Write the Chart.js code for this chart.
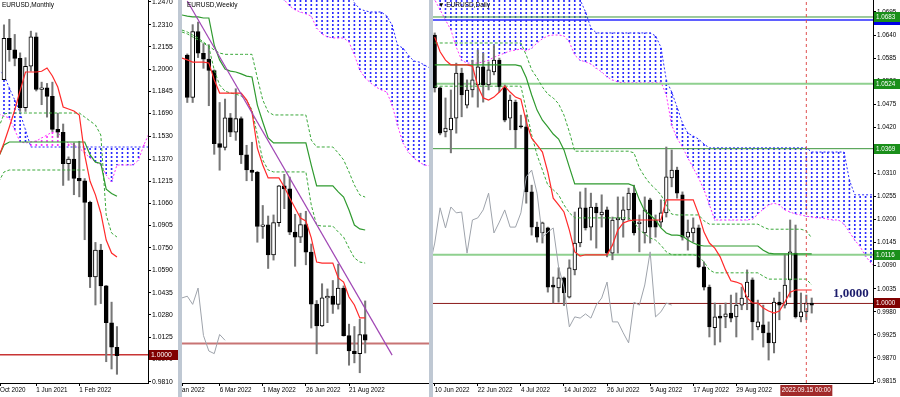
<!DOCTYPE html>
<html>
<head>
<meta charset="utf-8">
<script src="https://cdn.jsdelivr.net/npm/chart.js@4.4.1/dist/chart.umd.min.js"></script>
<style>
  html, body { margin: 0; padding: 0; }
  body { width: 900px; height: 397px; position: relative; overflow: hidden; background: #bfc8d3; }
  .pane { position: absolute; top: 0; height: 397px; background: #fff; }
  .pane canvas { display: block; }
</style>
</head>
<body>
<div class="pane" style="left:0;width:178px"><canvas id="monthly" width="178" height="397"></canvas></div>
<div class="pane" style="left:182px;width:247px"><canvas id="weekly" width="247" height="397"></canvas></div>
<div class="pane" style="left:433px;width:467px"><canvas id="daily" width="467" height="397"></canvas></div>
<script>
// ---------- monthly (bar 0 = Dec 2020) ----------
const mTickIdx = [-0.74, 6, 14];
const mTickLbl = ['Oct 2020', '1 Jun 2021', '1 Feb 2022'];
const mPriceTicks = [1.2470, 1.2310, 1.2155, 1.2000, 1.1845, 1.1690, 1.1530, 1.1370, 1.1215, 1.1060,
  1.0905, 1.0750, 1.0590, 1.0435, 1.0280, 1.0125, 0.9970, 0.9810];
const mOpen  = [1.1927, 1.2216, 1.2136, 1.2075, 1.1730, 1.2020, 1.2227, 1.1858, 1.1870, 1.1809, 1.1578,
  1.1558, 1.1338, 1.1370, 1.1235, 1.1218, 1.1067, 1.0545, 1.0733, 1.0483, 1.0225, 1.0053];
const mHigh  = [1.2310, 1.2349, 1.2243, 1.2114, 1.2080, 1.2266, 1.2254, 1.1909, 1.1900, 1.1909, 1.1692,
  1.1616, 1.1386, 1.1483, 1.1495, 1.1234, 1.1076, 1.0787, 1.0774, 1.0486, 1.0369, 1.0198];
const mLow   = [1.1925, 1.2055, 1.2023, 1.1704, 1.1704, 1.1986, 1.1847, 1.1751, 1.1664, 1.1563, 1.1524,
  1.1186, 1.1222, 1.1121, 1.1106, 1.0806, 1.0471, 1.0349, 1.0359, 0.9952, 0.9901, 0.9864];
const mClose = [1.2216, 1.2136, 1.2075, 1.1730, 1.2020, 1.2227, 1.1858, 1.1870, 1.1809, 1.1578, 1.1558,
  1.1338, 1.1370, 1.1235, 1.1218, 1.1067, 1.0545, 1.0733, 1.0483, 1.0225, 1.0053, 0.9995];
// lines below start at bar -1
const mTenkan = [1.1385, 1.1483, 1.1595, 1.1714, 1.1850, 1.1980, 1.1980, 1.1980, 1.1985, 1.2008, 1.1952,
  1.1875, 1.1735, 1.1721, 1.1707, 1.1679, 1.1400, 1.1215, 1.1120, 1.0993, 1.0804, 1.0713, 1.0685];
const mKijun = [1.1385, 1.1469, 1.1490, 1.1490, 1.1490, 1.1490, 1.1490, 1.1490, 1.1490, 1.1490, 1.1490,
  1.1490, 1.1490, 1.1490, 1.1490, 1.1490, 1.1490, 1.1400, 1.1349, 1.1340, 1.1160, 1.1130, 1.1110];
const mDashA = [1.1588, 1.1686, 1.1693, 1.1693, 1.1693, 1.1693, 1.1693, 1.1693, 1.1693, 1.1693, 1.1693,
  1.1693, 1.1693, 1.1693, 1.1693, 1.1693, 1.1665, 1.1637, 1.1609, 1.1539, 1.0979, 1.0853, 1.0825];
const mDashB = [1.1210, 1.1280, 1.1294, 1.1294, 1.1294, 1.1294, 1.1294, 1.1294, 1.1294, 1.1294, 1.1294,
  1.1294, 1.1294, 1.1294, 1.1294, 1.1294, 1.1294];
const mSpanA = [1.1686, 1.1672, 1.1658, 1.1574, 1.1490, 1.1483, 1.1490, 1.1497, 1.1518, 1.1539, 1.1560,
  1.1560, 1.1504, 1.1483, 1.1469, 1.1448, 1.1413, 1.1378, 1.1350, 1.1329, 1.1259, 1.1210, 1.1329, 1.1329,
  1.1329, 1.1329, 1.1364, 1.1469, 1.1553];
const mSpanB = [1.1994, 1.1959, 1.1868, 1.1784, 1.1693, 1.1574, 1.1455, 1.1455, 1.1455, 1.1455, 1.1455,
  1.1455, 1.1455, 1.1455, 1.1455, 1.1455, 1.1455, 1.1455, 1.1455, 1.1455, 1.1455, 1.1455, 1.1455, 1.1455,
  1.1455, 1.1455, 1.1455, 1.1455, 1.1455];
const mLevels = [1.0000];

// ---------- weekly (bar 0 = week of 23 Jan 2022) ----------
const wTickIdx = [-0.98, 6, 14, 22, 30];
const wTickLbl = ['an 2022', '6 Mar 2022', '1 May 2022', '26 Jun 2022', '21 Aug 2022'];
const wOpen  = [1.1342, 1.1145, 1.1451, 1.1350, 1.1323, 1.1270, 1.0930, 1.0912, 1.1050, 1.0983, 1.1046,
  1.0877, 1.0807, 1.0796, 1.0545, 1.0552, 1.0412, 1.0562, 1.0733, 1.0719, 1.0518, 1.0495, 1.0553, 1.0425,
  1.0183, 1.0082, 1.0212, 1.0220, 1.0182, 1.0258, 1.0037, 0.9965, 0.9953, 1.0042];
const wHigh  = [1.1347, 1.1483, 1.1495, 1.1395, 1.1390, 1.1273, 1.1121, 1.1137, 1.1070, 1.1185, 1.1054,
  1.0922, 1.0936, 1.0801, 1.0642, 1.0593, 1.0598, 1.0735, 1.0787, 1.0774, 1.0601, 1.0606, 1.0615, 1.0463,
  1.0200, 1.0278, 1.0254, 1.0293, 1.0369, 1.0268, 1.0090, 1.0079, 1.0113, 1.0198];
const wLow   = [1.1121, 1.1121, 1.1330, 1.1280, 1.1106, 1.0880, 1.0806, 1.0900, 1.0962, 1.0945, 1.0837,
  1.0757, 1.0757, 1.0471, 1.0489, 1.0349, 1.0388, 1.0545, 1.0627, 1.0506, 1.0359, 1.0469, 1.0366, 1.0072,
  0.9952, 1.0079, 1.0097, 1.0140, 1.0160, 1.0034, 0.9899, 0.9910, 0.9864, 0.9956];
const wClose = [1.1145, 1.1451, 1.1350, 1.1323, 1.1270, 1.0930, 1.0912, 1.1050, 1.0983, 1.1046, 1.0877,
  1.0807, 1.0796, 1.0545, 1.0552, 1.0412, 1.0562, 1.0733, 1.0719, 1.0518, 1.0495, 1.0553, 1.0425, 1.0183,
  1.0082, 1.0212, 1.0220, 1.0182, 1.0258, 1.0037, 0.9965, 0.9953, 1.0042, 1.0015];
// lines below start at bar -1
const wTenkan = [1.1328, 1.1319, 1.1309, 1.1309, 1.1309, 1.1305, 1.1226, 1.1165, 1.1165, 1.1165, 1.1165,
  1.1165, 1.1133, 1.1077, 1.0909, 1.0830, 1.0770, 1.0770, 1.0770, 1.0728, 1.0677, 1.0630, 1.0584, 1.0570,
  1.0491, 1.0379, 1.0374, 1.0374, 1.0374, 1.0305, 1.0286, 1.0216, 1.0179, 1.0119, 1.0119];
const wKijun = [1.1528, 1.1523, 1.1519, 1.1519, 1.1514, 1.1514, 1.1388, 1.1319, 1.1277, 1.1267, 1.1263,
  1.1254, 1.1244, 1.1240, 1.1109, 1.1030, 1.0956, 1.0933, 1.0933, 1.0933, 1.0933, 1.0933, 1.0933, 1.0933,
  1.0830, 1.0733, 1.0733, 1.0733, 1.0733, 1.0705, 1.0681, 1.0621, 1.0551, 1.0533, 1.0528];
const wDashHi = [1.1458, 1.1449, 1.1435, 1.1421, 1.1402, 1.1384, 1.1365, 1.1351, 1.1345, 1.1345, 1.1345,
  1.1345, 1.1345, 1.1345, 1.1235, 1.1133, 1.1077, 1.1063, 1.1063, 1.1063, 1.1063, 1.1063, 1.1063, 1.1063,
  1.0946, 1.0914, 1.0914, 1.0914, 1.0914, 1.0886, 1.0854, 1.0798, 1.0737, 1.0691, 1.0681];
const wDashLo = [1.1449, 1.1440, 1.1426, 1.1412, 1.1398, 1.1379, 1.1272, 1.1202, 1.1174, 1.1165, 1.1160,
  1.1151, 1.1133, 1.1086, 1.0970, 1.0854, 1.0807, 1.0798, 1.0798, 1.0798, 1.0798, 1.0798, 1.0798, 1.0798,
  1.0644, 1.0551, 1.0546, 1.0546, 1.0546, 1.0519, 1.0495, 1.0444, 1.0398, 1.0379, 1.0374];
// cloud starts at bar 16
const wSpanA = [1.1691, 1.1644, 1.1598, 1.1570, 1.1551, 1.1542, 1.1533, 1.1523, 1.1467, 1.1440, 1.1426,
  1.1421, 1.1421, 1.1421, 1.1402, 1.1342, 1.1272, 1.1235, 1.1212, 1.1193, 1.1179, 1.1170, 1.1109, 1.1016,
  1.0933, 1.0891, 1.0863, 1.0844, 1.0830, 1.0826];
const wSpanB = [1.1737, 1.1737, 1.1737, 1.1737, 1.1737, 1.1737, 1.1737, 1.1737, 1.1737, 1.1737, 1.1737,
  1.1737, 1.1737, 1.1737, 1.1650, 1.1584, 1.1556, 1.1547, 1.1542, 1.1542, 1.1542, 1.1523, 1.1481, 1.1388,
  1.1374, 1.1342, 1.1314, 1.1309, 1.1295, 1.1281];
const wTrendX = [0, 38];
const wTrendY = [1.1593, 0.9946];
const wLevels = [1.0000];

// ---------- daily (bar 0 = 10 Jun 2022) ----------
const dTickIdx = [0, 8, 16, 24, 32, 40, 48, 56];
const dTickLbl = ['10 Jun 2022', '22 Jun 2022', '4 Jul 2022', '14 Jul 2022', '26 Jul 2022', '5 Aug 2022',
  '17 Aug 2022', '29 Aug 2022'];
const dPriceTicks = [1.0695, 1.0640, 1.0585, 1.0530, 1.0475, 1.0420, 1.0365, 1.0310, 1.0255, 1.0200,
  1.0145, 1.0090, 1.0035, 0.9980, 0.9925, 0.9870, 0.9815];
const dOpen = [1.0640, 1.0514, 1.0409, 1.0414, 1.0442, 1.0549, 1.0473, 1.0509, 1.0521, 1.0564,
  1.0521, 1.0552, 1.0580, 1.0516, 1.0442, 1.0480, 1.0423, 1.0421, 1.0266, 1.0182,
  1.0168, 1.0180, 1.0044, 1.0037, 1.0061, 1.0015, 1.0080, 1.0144, 1.0228, 1.0182,
  1.0230, 1.0211, 1.0223, 1.0120, 1.0199, 1.0199, 1.0223, 1.0263, 1.0190, 1.0168,
  1.0247, 1.0199, 1.0194, 1.0216, 1.0299, 1.0318, 1.0259, 1.0158, 1.0168, 1.0180,
  1.0087, 1.0039, 0.9942, 0.9970, 0.9968, 0.9977, 0.9968, 0.9996, 1.0015, 1.0056,
  0.9944, 0.9949, 0.9930, 0.9906, 1.0003, 0.9996, 1.0056, 1.0120, 0.9968, 0.9980, 1.0001];
const dHigh = [1.0645, 1.0516, 1.0490, 1.0509, 1.0573, 1.0561, 1.0533, 1.0580, 1.0604, 1.0597,
  1.0576, 1.0616, 1.0585, 1.0521, 1.0497, 1.0485, 1.0449, 1.0449, 1.0282, 1.0194,
  1.0194, 1.0182, 1.0063, 1.0085, 1.0063, 1.0104, 1.0218, 1.0266, 1.0275, 1.0263,
  1.0239, 1.0259, 1.0230, 1.0206, 1.0254, 1.0254, 1.0275, 1.0282, 1.0211, 1.0254,
  1.0251, 1.0211, 1.0247, 1.0373, 1.0366, 1.0325, 1.0266, 1.0199, 1.0204, 1.0187,
  1.0099, 1.0044, 1.0001, 0.9996, 1.0001, 1.0020, 1.0025, 1.0039, 1.0080, 1.0061,
  1.0008, 0.9996, 0.9956, 1.0013, 1.0027, 1.0116, 1.0199, 1.0187, 1.0025, 1.0020, 1.0013];
const dLow = [1.0504, 1.0402, 1.0397, 1.0359, 1.0406, 1.0445, 1.0466, 1.0492, 1.0468, 1.0480,
  1.0509, 1.0545, 1.0504, 1.0433, 1.0414, 1.0371, 1.0418, 1.0239, 1.0163, 1.0146,
  1.0144, 1.0027, 1.0001, 1.0003, 0.9995, 1.0013, 1.0068, 1.0135, 1.0175, 1.0151,
  1.0132, 1.0182, 1.0111, 1.0104, 1.0120, 1.0158, 1.0199, 1.0163, 1.0123, 1.0144,
  1.0144, 1.0158, 1.0182, 1.0206, 1.0278, 1.0251, 1.0151, 1.0127, 1.0146, 1.0085,
  1.0032, 0.9920, 0.9901, 0.9908, 0.9942, 0.9956, 0.9920, 0.9985, 0.9985, 0.9913,
  0.9937, 0.9896, 0.9865, 0.9882, 0.9961, 0.9989, 1.0015, 0.9965, 0.9956, 0.9961, 0.9977];
const dClose = [1.0514, 1.0406, 1.0418, 1.0442, 1.0549, 1.0497, 1.0509, 1.0533, 1.0564, 1.0521,
  1.0557, 1.0580, 1.0516, 1.0437, 1.0485, 1.0414, 1.0421, 1.0266, 1.0182, 1.0158,
  1.0192, 1.0039, 1.0039, 1.0061, 1.0025, 1.0085, 1.0144, 1.0228, 1.0180, 1.0230,
  1.0216, 1.0218, 1.0120, 1.0199, 1.0204, 1.0223, 1.0263, 1.0168, 1.0194, 1.0223,
  1.0182, 1.0182, 1.0216, 1.0302, 1.0318, 1.0263, 1.0158, 1.0170, 1.0180, 1.0087,
  1.0039, 0.9944, 0.9968, 0.9965, 0.9975, 0.9965, 0.9996, 1.0013, 1.0051, 0.9956,
  0.9956, 0.9930, 0.9906, 1.0003, 0.9996, 1.0044, 1.0123, 0.9968, 0.9980, 1.0001, 0.9996];
const dTenkan = [1.0635, 1.0600, 1.0580, 1.0569, 1.0569, 1.0569, 1.0569, 1.0566, 1.0518, 1.0490,
  1.0485, 1.0492, 1.0504, 1.0518, 1.0504, 1.0492, 1.0487, 1.0433, 1.0394, 1.0378,
  1.0361, 1.0313, 1.0251, 1.0235, 1.0218, 1.0175, 1.0123, 1.0113, 1.0116, 1.0116,
  1.0116, 1.0116, 1.0116, 1.0139, 1.0175, 1.0192, 1.0197, 1.0199, 1.0199, 1.0199,
  1.0199, 1.0199, 1.0199, 1.0247, 1.0247, 1.0247, 1.0247, 1.0247, 1.0247, 1.0213,
  1.0170, 1.0144, 1.0132, 1.0111, 1.0080, 1.0054, 1.0051, 1.0046, 1.0013, 1.0001,
  1.0001, 0.9989, 0.9982, 0.9977, 0.9982, 1.0003, 1.0027, 1.0032, 1.0032, 1.0032, 1.0032];
const dKijun = [1.0569, 1.0569, 1.0569, 1.0569, 1.0569, 1.0569, 1.0569, 1.0569, 1.0569, 1.0569,
  1.0569, 1.0569, 1.0569, 1.0569, 1.0569, 1.0569, 1.0566, 1.0538, 1.0497, 1.0461,
  1.0437, 1.0421, 1.0404, 1.0392, 1.0366, 1.0325, 1.0285, 1.0285, 1.0285, 1.0285,
  1.0285, 1.0285, 1.0285, 1.0285, 1.0285, 1.0285, 1.0285, 1.0280, 1.0247, 1.0220,
  1.0211, 1.0199, 1.0180, 1.0168, 1.0163, 1.0163, 1.0161, 1.0151, 1.0144, 1.0139,
  1.0137, 1.0137, 1.0137, 1.0137, 1.0137, 1.0137, 1.0137, 1.0137, 1.0137, 1.0137,
  1.0137, 1.0127, 1.0120, 1.0118, 1.0118, 1.0118, 1.0118, 1.0118, 1.0118, 1.0118, 1.0118];
const dDashHi = [1.0621, 1.0621, 1.0621, 1.0621, 1.0621, 1.0621, 1.0621, 1.0621, 1.0621, 1.0621,
  1.0621, 1.0621, 1.0621, 1.0621, 1.0621, 1.0621, 1.0621, 1.0592, 1.0557, 1.0538,
  1.0516, 1.0499, 1.0490, 1.0476, 1.0449, 1.0409, 1.0363, 1.0363, 1.0363, 1.0363,
  1.0363, 1.0363, 1.0363, 1.0363, 1.0363, 1.0363, 1.0363, 1.0359, 1.0323, 1.0302,
  1.0285, 1.0273, 1.0259, 1.0235, 1.0213, 1.0211, 1.0211, 1.0211, 1.0211, 1.0211,
  1.0197, 1.0189, 1.0189, 1.0189, 1.0189, 1.0189, 1.0189, 1.0189, 1.0189, 1.0189,
  1.0189, 1.0182, 1.0177, 1.0177, 1.0177, 1.0177, 1.0177, 1.0177, 1.0177, 1.0173, 1.0156];
const dDashLo = [1.0518, 1.0518, 1.0518, 1.0518, 1.0518, 1.0518, 1.0518, 1.0518, 1.0518, 1.0518,
  1.0518, 1.0518, 1.0518, 1.0518, 1.0518, 1.0518, 1.0518, 1.0461, 1.0402, 1.0354,
  1.0318, 1.0282, 1.0271, 1.0259, 1.0235, 1.0216, 1.0204, 1.0204, 1.0204, 1.0204,
  1.0204, 1.0204, 1.0204, 1.0204, 1.0204, 1.0204, 1.0204, 1.0194, 1.0175, 1.0166,
  1.0156, 1.0151, 1.0139, 1.0123, 1.0116, 1.0116, 1.0116, 1.0116, 1.0116, 1.0113,
  1.0099, 1.0080, 1.0073, 1.0073, 1.0073, 1.0073, 1.0073, 1.0073, 1.0073, 1.0073,
  1.0073, 1.0065, 1.0058, 1.0058, 1.0058, 1.0058, 1.0058, 1.0058, 1.0058, 1.0058, 1.0044];
// cloud starts at bar -1
const dSpanA = [1.0747,
  1.0724, 1.0700, 1.0676, 1.0652, 1.0611, 1.0580, 1.0573, 1.0573, 1.0573, 1.0576,
  1.0580, 1.0587, 1.0592, 1.0597, 1.0602, 1.0604, 1.0607, 1.0602, 1.0609, 1.0621,
  1.0631, 1.0638, 1.0640, 1.0640, 1.0638, 1.0623, 1.0592, 1.0580, 1.0576, 1.0571,
  1.0561, 1.0552, 1.0540, 1.0533, 1.0528, 1.0526, 1.0526, 1.0526, 1.0526, 1.0526,
  1.0526, 1.0526, 1.0528, 1.0497, 1.0425, 1.0394, 1.0373, 1.0347, 1.0323, 1.0299,
  1.0271, 1.0235, 1.0199, 1.0199, 1.0199, 1.0199, 1.0199, 1.0199, 1.0199, 1.0201,
  1.0213, 1.0225, 1.0235, 1.0239, 1.0235, 1.0223, 1.0218, 1.0213, 1.0211, 1.0208,
  1.0206, 1.0204, 1.0204, 1.0201, 1.0199, 1.0199, 1.0189, 1.0170, 1.0151, 1.0135,
  1.0113, 1.0096, 1.0085];
const dSpanB = [1.0760,
  1.0760, 1.0760, 1.0760, 1.0760, 1.0760, 1.0760, 1.0760, 1.0760, 1.0760, 1.0760,
  1.0760, 1.0760, 1.0760, 1.0760, 1.0760, 1.0760, 1.0760, 1.0760, 1.0760, 1.0760,
  1.0760, 1.0760, 1.0760, 1.0760, 1.0760, 1.0760, 1.0760, 1.0724, 1.0695, 1.0657,
  1.0645, 1.0645, 1.0645, 1.0645, 1.0645, 1.0645, 1.0645, 1.0645, 1.0645, 1.0645,
  1.0645, 1.0638, 1.0611, 1.0533, 1.0504, 1.0468, 1.0430, 1.0406, 1.0399, 1.0392,
  1.0380, 1.0371, 1.0371, 1.0371, 1.0371, 1.0371, 1.0371, 1.0371, 1.0371, 1.0371,
  1.0371, 1.0371, 1.0371, 1.0371, 1.0371, 1.0371, 1.0371, 1.0371, 1.0371, 1.0371,
  1.0361, 1.0361, 1.0361, 1.0361, 1.0361, 1.0361, 1.0361, 1.0294, 1.0259, 1.0259,
  1.0259, 1.0259, 1.0259];
const dLevels = [1.0683, 1.0676, 1.0524, 1.0369, 1.0116, 1.0000];
const dMarkBar = 69;   // 2022.09.15

const FONT = "'Liberation Sans', Arial, sans-serif";

function pts(first, arr) {
  return arr.map((v, i) => ({ x: first + i, y: v }));
}

function line(first, arr, color, width, dash, order) {
  return { type: 'line', data: pts(first, arr), borderColor: color, borderWidth: width,
    borderDash: dash || [], pointRadius: 0, fill: false, tension: 0, order };
}

function hline(v, x0, x1, color, width, order) {
  return { type: 'line', data: [{ x: x0, y: v }, { x: x1, y: v }], borderColor: color,
    borderWidth: width, pointRadius: 0, fill: false, order };
}

function dotPattern(color) {
  const c = document.createElement('canvas');
  c.width = 1; c.height = 4;
  const g = c.getContext('2d');
  g.fillStyle = color;
  g.fillRect(0, 0, 1, 2);
  return g.createPattern(c, 'repeat');
}

// hatch between the two spans, coloured by whichever span is on top
function cloud(first, spanA, spanB) {
  const blue = [], pink = [];
  spanA.forEach((a, i) => {
    const b = spanB[i];
    (b >= a ? blue : pink).push({ x: first + i, y: [Math.min(a, b), Math.max(a, b)] });
  });
  return [
    { type: 'bar', data: blue, backgroundColor: dotPattern('#2a2aff'), barThickness: 1, grouped: false, order: 20 },
    { type: 'bar', data: pink, backgroundColor: dotPattern('#ff30ff'), barThickness: 1, grouped: false, order: 20 },
    line(first, spanA, '#ff30ff', 1, [2, 2], 19),
    line(first, spanB, '#2a2aff', 1, [2, 2], 19)
  ];
}

function candles(open, high, low, close, bodyW) {
  const wick = [], up = [], down = [];
  open.forEach((o, i) => {
    wick.push({ x: i, y: [low[i], high[i]] });
    (close[i] > o ? up : down).push({ x: i, y: [o, close[i]] });
  });
  const body = { type: 'bar', borderColor: '#000', borderWidth: 1, borderSkipped: false,
    barThickness: bodyW, grouped: false, minBarLength: 1, order: 11 };
  return [
    { type: 'bar', data: wick, backgroundColor: '#777', barThickness: 1.4, grouped: false, order: 12 },
    { ...body, data: up, backgroundColor: '#fff' },
    { ...body, data: down, backgroundColor: '#000' }
  ];
}

function xAxis(min, max, idx, lbl) {
  return {
    type: 'linear', min, max, offset: false, bounds: 'data',
    afterBuildTicks: s => { s.ticks = idx.map(v => ({ value: v })); },
    afterFit: s => { s.height = 14; s.paddingLeft = 0; s.paddingRight = 0; },
    grid: { display: true, drawOnChartArea: false, drawTicks: true, tickLength: 3, color: '#000', offset: false },
    border: { display: true, color: '#000' },
    ticks: { autoSkip: false, maxRotation: 0, minRotation: 0, align: 'start', padding: 0, color: '#000',
      font: { family: FONT, size: 6.3 }, callback: (v, i) => lbl[i] }
  };
}

function yAxis(min, max, ticks, width, size) {
  return {
    type: 'linear', position: 'right', min, max, bounds: 'data', display: width > 0,
    afterBuildTicks: s => { s.ticks = ticks.map(v => ({ value: v })); },
    afterFit: s => { s.width = width; s.paddingTop = 0; s.paddingBottom = 0; },
    grid: { display: true, drawOnChartArea: false, drawTicks: true, tickLength: 3, color: '#000' },
    border: { display: true, color: '#000' },
    ticks: { autoSkip: false, padding: 1, color: '#000', font: { family: FONT, size },
      callback: v => v.toFixed(4) }
  };
}

function decor(d) {
  return {
    id: 'decor',
    afterDraw(chart) {
      const { ctx, chartArea: a, scales: { x, y } } = chart;
      ctx.save();
      ctx.font = '6.5px ' + FONT;
      ctx.fillStyle = '#000';
      ctx.textBaseline = 'top';
      ctx.fillText(d.title, a.left + d.titleX, 2);
      (d.tags || []).forEach(t => {
        const py = Math.round(y.getPixelForValue(t.v));
        ctx.fillStyle = t.bg;
        ctx.fillRect(a.right + 1, py - 5, chart.width - a.right - 1, 10);
        ctx.fillStyle = '#fff';
        ctx.textBaseline = 'middle';
        ctx.font = d.tagFont;
        ctx.fillText(t.v.toFixed(4), a.right + 3, py + 0.5);
      });
      if (d.note) {
        ctx.font = 'bold 13px "Liberation Serif", serif';
        ctx.fillStyle = '#1c1c6c';
        ctx.textBaseline = 'alphabetic';
        ctx.fillText(d.note.text, x.getPixelForValue(d.note.x), y.getPixelForValue(d.note.y));
      }
      if (d.dateBox) {
        const px = x.getPixelForValue(d.dateBox.x);
        ctx.fillStyle = '#a12a2a';
        ctx.fillRect(px - 26, a.bottom + 2, 52, 11);
        ctx.fillStyle = '#fff';
        ctx.textAlign = 'center';
        ctx.textBaseline = 'middle';
        ctx.font = '6.3px ' + FONT;
        ctx.fillText(d.dateBox.text, px, a.bottom + 7.5);
      }
      ctx.restore();
    }
  };
}

function build(id, datasets, scales, deco) {
  new Chart(document.getElementById(id), {
    type: 'line',
    data: { datasets },
    options: {
      responsive: false, animation: false, events: [],
      layout: { padding: 0 },
      plugins: { legend: { display: false }, tooltip: { enabled: false } },
      scales
    },
    plugins: [decor(deco)]
  });
}

// monthly
{
  const xMin = -0.74, xMax = 26.77;
  build('monthly', [
    ...cloud(-1, mSpanA, mSpanB),
    ...candles(mOpen, mHigh, mLow, mClose, 4),
    hline(mLevels[0], xMin, xMax, '#c83434', 1.5, 13),
    line(-1, mDashA, '#3aa83a', 1, [3, 2], 6),
    line(-1, mDashB, '#3aa83a', 1, [3, 2], 6),
    line(-1, mKijun, '#2f9a2f', 1.2, [], 4),
    line(-1, mTenkan, '#ff2a2a', 1.2, [], 3)
  ], {
    x: xAxis(xMin, xMax, mTickIdx, mTickLbl),
    y: yAxis(0.9803, 1.2484, mPriceTicks, 30, 6.8)
  }, {
    title: 'EURUSD,Monthly', titleX: 2, tagFont: '6.8px ' + FONT,
    tags: [{ v: mLevels[0], bg: '#800000' }]
  });
}

// weekly
{
  const xMin = -0.98, xMax = 44.84;
  build('weekly', [
    ...cloud(16, wSpanA, wSpanB),
    ...candles(wOpen, wHigh, wLow, wClose, 4),
    hline(wLevels[0], xMin, xMax, '#c87474', 2, 13),
    line(-1, wClose.slice(25), '#9ea3ab', 1, [], 5),
    line(-1, wDashHi, '#3aa83a', 1, [3, 2], 6),
    line(-1, wDashLo, '#3aa83a', 1, [3, 2], 6),
    line(-1, wKijun, '#2f9a2f', 1.2, [], 4),
    line(-1, wTenkan, '#ff2a2a', 1.2, [], 3),
    { type: 'line', data: wTrendX.map((v, i) => ({ x: v, y: wTrendY[i] })), borderColor: '#a046b4',
      borderWidth: 1.2, pointRadius: 0, fill: false, order: 2 }
  ], {
    x: xAxis(xMin, xMax, wTickIdx, wTickLbl),
    y: yAxis(0.98163, 1.15977, [], 0, 6.5)
  }, {
    title: 'EURUSD,Weekly', titleX: 5
  });
}

// daily
{
  const xMin = -0.32, xMax = 81.38, yMin = 0.98103, yMax = 1.07235;
  const lvlStyle = [['#3c963c', 1], ['#2a2aff', 1.5], ['#8fd08f', 2], ['#3c963c', 1], ['#8fd08f', 2], ['#8b1a1a', 1]];
  build('daily', [
    ...cloud(-1, dSpanA, dSpanB),
    ...candles(dOpen, dHigh, dLow, dClose, 3.6),
    ...dLevels.map((v, i) => hline(v, xMin, xMax, lvlStyle[i][0], lvlStyle[i][1], 13)),
    line(-1, dClose.slice(25), '#9ea3ab', 1, [], 5),
    line(0, dDashHi, '#3aa83a', 1, [3, 2], 6),
    line(0, dDashLo, '#3aa83a', 1, [3, 2], 6),
    line(0, dKijun, '#2f9a2f', 1.2, [], 4),
    line(0, dTenkan, '#ff2a2a', 1.2, [], 3),
    { type: 'line', data: [{ x: dMarkBar, y: yMin }, { x: dMarkBar, y: yMax }], borderColor: '#e05050',
      borderWidth: 1, borderDash: [3, 3], pointRadius: 0, fill: false, order: 1 }
  ], {
    x: xAxis(xMin, xMax, dTickIdx, dTickLbl),
    y: yAxis(yMin, yMax, dPriceTicks, 27, 6.3)
  }, {
    title: '\u25BC EURUSD,Daily', titleX: 5, tagFont: '6.3px ' + FONT,
    tags: [
      { v: dLevels[1], bg: '#0000e6' }, { v: dLevels[0], bg: '#1a8f1a' }, { v: dLevels[2], bg: '#1a8f1a' },
      { v: dLevels[3], bg: '#1a8f1a' }, { v: dLevels[4], bg: '#1a8f1a' }, { v: dLevels[5], bg: '#800000' }
    ],
    note: { text: '1,0000', x: 73.95, y: 1.0015 },
    dateBox: { text: '2022.09.15 00:00', x: dMarkBar }
  });
}
</script>
</body>
</html>
